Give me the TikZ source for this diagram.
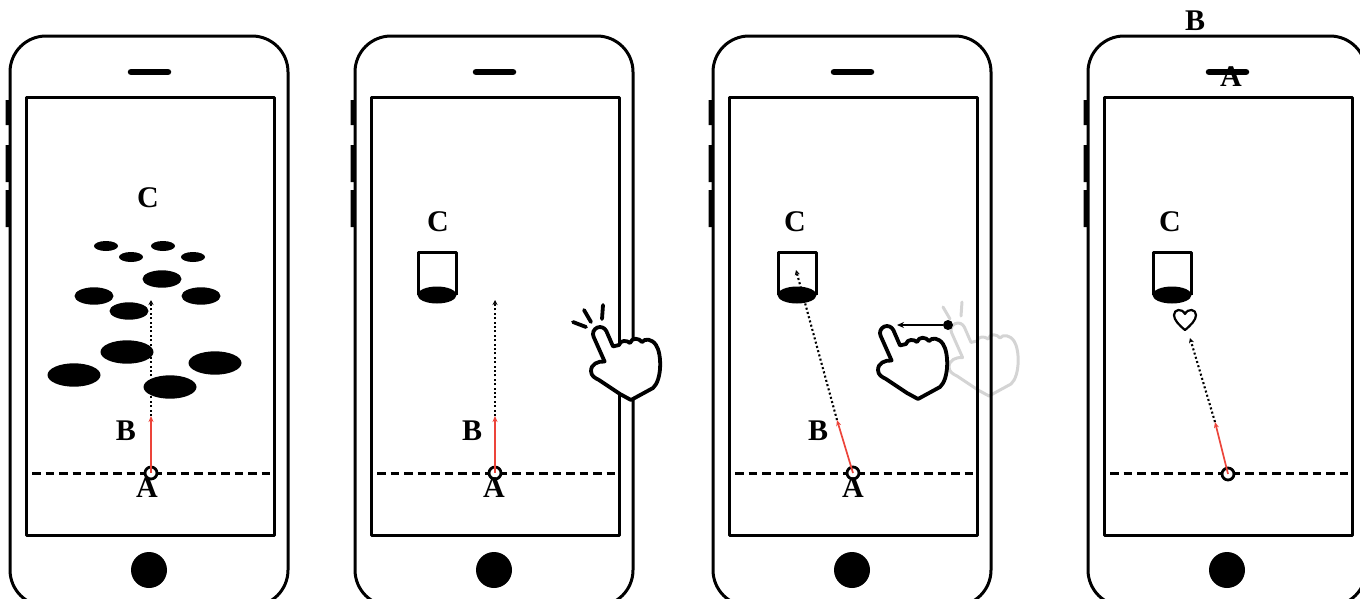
\documentclass[tikz,border=0pt]{standalone}
\usepackage{fontspec}
\setmainfont{Liberation Serif}
\usetikzlibrary{arrows.meta}
\definecolor{shotred}{RGB}{236,68,58}
\definecolor{ghost}{RGB}{212,212,212}
\tikzset{
  lbl/.style={font=\fontsize{30}{30}\selectfont\bfseries, inner sep=0pt},
  floorline/.style={line width=3pt, dash pattern=on 8.5pt off 5pt},
  shot/.style={shotred, line width=1.7pt, -{Stealth[length=6pt,width=5pt]}},
  aim/.style={line width=2.1pt, dash pattern=on 2pt off 2.4pt, -{Stealth[length=5pt,width=5pt]}},
  ball/.style={circle, draw, line width=2.8pt, fill=white, minimum size=12pt, inner sep=0pt},
  grip/.style={circle, fill, minimum size=10pt, inner sep=0pt},
  pics/cup/.style={code={
    \draw[line width=3pt] (-19,0) -- (-19,-43) -- (19,-43) -- (19,0);
    \fill (0,0) ellipse [x radius=19.5, y radius=8.5];
  }},
  pics/pointer/.style={code={
    \path[pic actions] (-6.4,2.8) -- (4.6,27.5)
      .. controls (-2,27) and (-9,30) .. (-9,37)
      .. controls (-9,42) and (-5,44) .. (-1,46)
      -- (20,60) -- (31,66) -- (53,54)
      .. controls (62,46) and (62,20) .. (56,11)
      .. controls (52,5) and (45,4) .. (42,8)
      .. controls (39,4) and (32,3) .. (30,9)
      .. controls (27,6) and (20,6) .. (19,11)
      -- (13,12.4) -- (6.4,-2.8)
      .. controls (4.8,-6.3) and (0.7,-8) .. (-2.8,-6.4)
      .. controls (-6.4,-4.8) and (-8,-0.7) .. (-6.4,2.8) -- cycle;
  }},
  pics/taps/.style={code={
    \path[pic actions] (-27,-12) -- (-14,-7) (-16,-24) -- (-9,-12) (3,-29) -- (2,-15);
  }},
}
\begin{document}
\begin{tikzpicture}[x=1pt,y=-1pt,line join=round]
\useasboundingbox (0,0) rectangle (1360,598);
\clip (0,0) rectangle (1360,598);

% faded hand where the swipe started
\pic[draw=ghost, line width=3pt] at (958,330) {pointer};
\draw[ghost, line width=3pt, line cap=round] (943,307) -- (950,319) (962,302) -- (961,316);

% phones
\foreach \x in {10,355,713,1088}{
  \draw[line width=3pt, rounded corners=36pt] (\x,36) rectangle (\x+278,606);
  \fill (\x-4.5,100) rectangle (\x,125) (\x-4.5,145) rectangle (\x,182) (\x-4.5,190) rectangle (\x,227);
  \draw[line width=6.5pt, line cap=round] (\x+121,72) -- (\x+158,72);
  \draw[line width=3pt] (\x+16,97) rectangle (\x+264,535);
  \fill (\x+139,570) circle (18);
  \draw[floorline] (\x+22,473) -- (\x+264,473);
}

% screen 1: field of obstacles
\foreach \cx/\cy/\rx/\ry in {106/246/12/5, 131/257/12/5, 163/246/12/5, 193/257/12/5,
    162/279/19.5/8.7, 94/296/19.5/8.7, 201/296/19.5/8.7, 129/311/19.5/8.7,
    127/352/26.5/11.7, 215/363/26.5/11.7, 74/375/26.5/11.7, 170/387/26.5/11.7}
  \fill (\cx,\cy) ellipse [x radius=\rx, y radius=\ry];
\node[ball] (A1) at (151,473) {};
\coordinate (B1) at (151,416);
\coordinate (C1) at (151,300);
\draw[aim] (B1) -- (C1);
\draw[shot] (A1.center) -- (B1);
\node[lbl] at (147,488) {A};
\node[lbl] at (126,431) {B};
\node[lbl] at (148,198) {C};

% screen 2
\pic at (437,295) {cup};
\node[ball] (A2) at (495,473) {};
\coordinate (B2) at (495,416);
\coordinate (C2) at (495,300);
\draw[aim] (B2) -- (C2);
\draw[shot] (A2.center) -- (B2);
\node[lbl] at (494,488) {A};
\node[lbl] at (472,431) {B};
\node[lbl] at (438,222) {C};

% screen 3
\node[ball] (A3) at (853,473) {};
\coordinate (B3) at (837,420);
\coordinate (C3) at (796,270);
\draw[aim] (B3) -- (C3);
\draw[shot] (A3.center) -- (B3);
\pic at (797,295) {cup};
\node[lbl] at (853,488) {A};
\node[lbl] at (818,431) {B};
\node[lbl] at (795,222) {C};

% screen 4
\node[ball] (A4) at (1228,474) {};
\coordinate (B4) at (1215,422);
\coordinate (C4) at (1190,338);
\draw[aim] (B4) -- (C4);
\draw[shot] (A4.center) -- (B4);
\pic at (1172,295) {cup};
\draw[line width=2.2pt] (1185,330) .. controls (1179,325) and (1174,320) .. (1174,315)
  .. controls (1174,309) and (1182,308) .. (1185,314)
  .. controls (1188,308) and (1196,309) .. (1196,315)
  .. controls (1196,320) and (1191,325) .. (1185,330) -- cycle;
\node[lbl] at (1170,222) {C};
\node[lbl] at (1195,21) {B};
\node[lbl] at (1231,77) {A};

% tap and swipe hands
\pic[draw, fill=white, line width=3.8pt] at (600,334) {pointer};
\pic[draw, line width=3.8pt, line cap=round] at (600,334) {taps};
\pic[draw, fill=white, line width=3.8pt] at (887,333) {pointer};
\node[grip] (grab) at (948,325) {};
\coordinate (drop) at (897,325);
\draw[line width=1.5pt, -{Stealth[length=7pt,width=6pt]}] (grab) -- (drop);
\end{tikzpicture}
\end{document}
